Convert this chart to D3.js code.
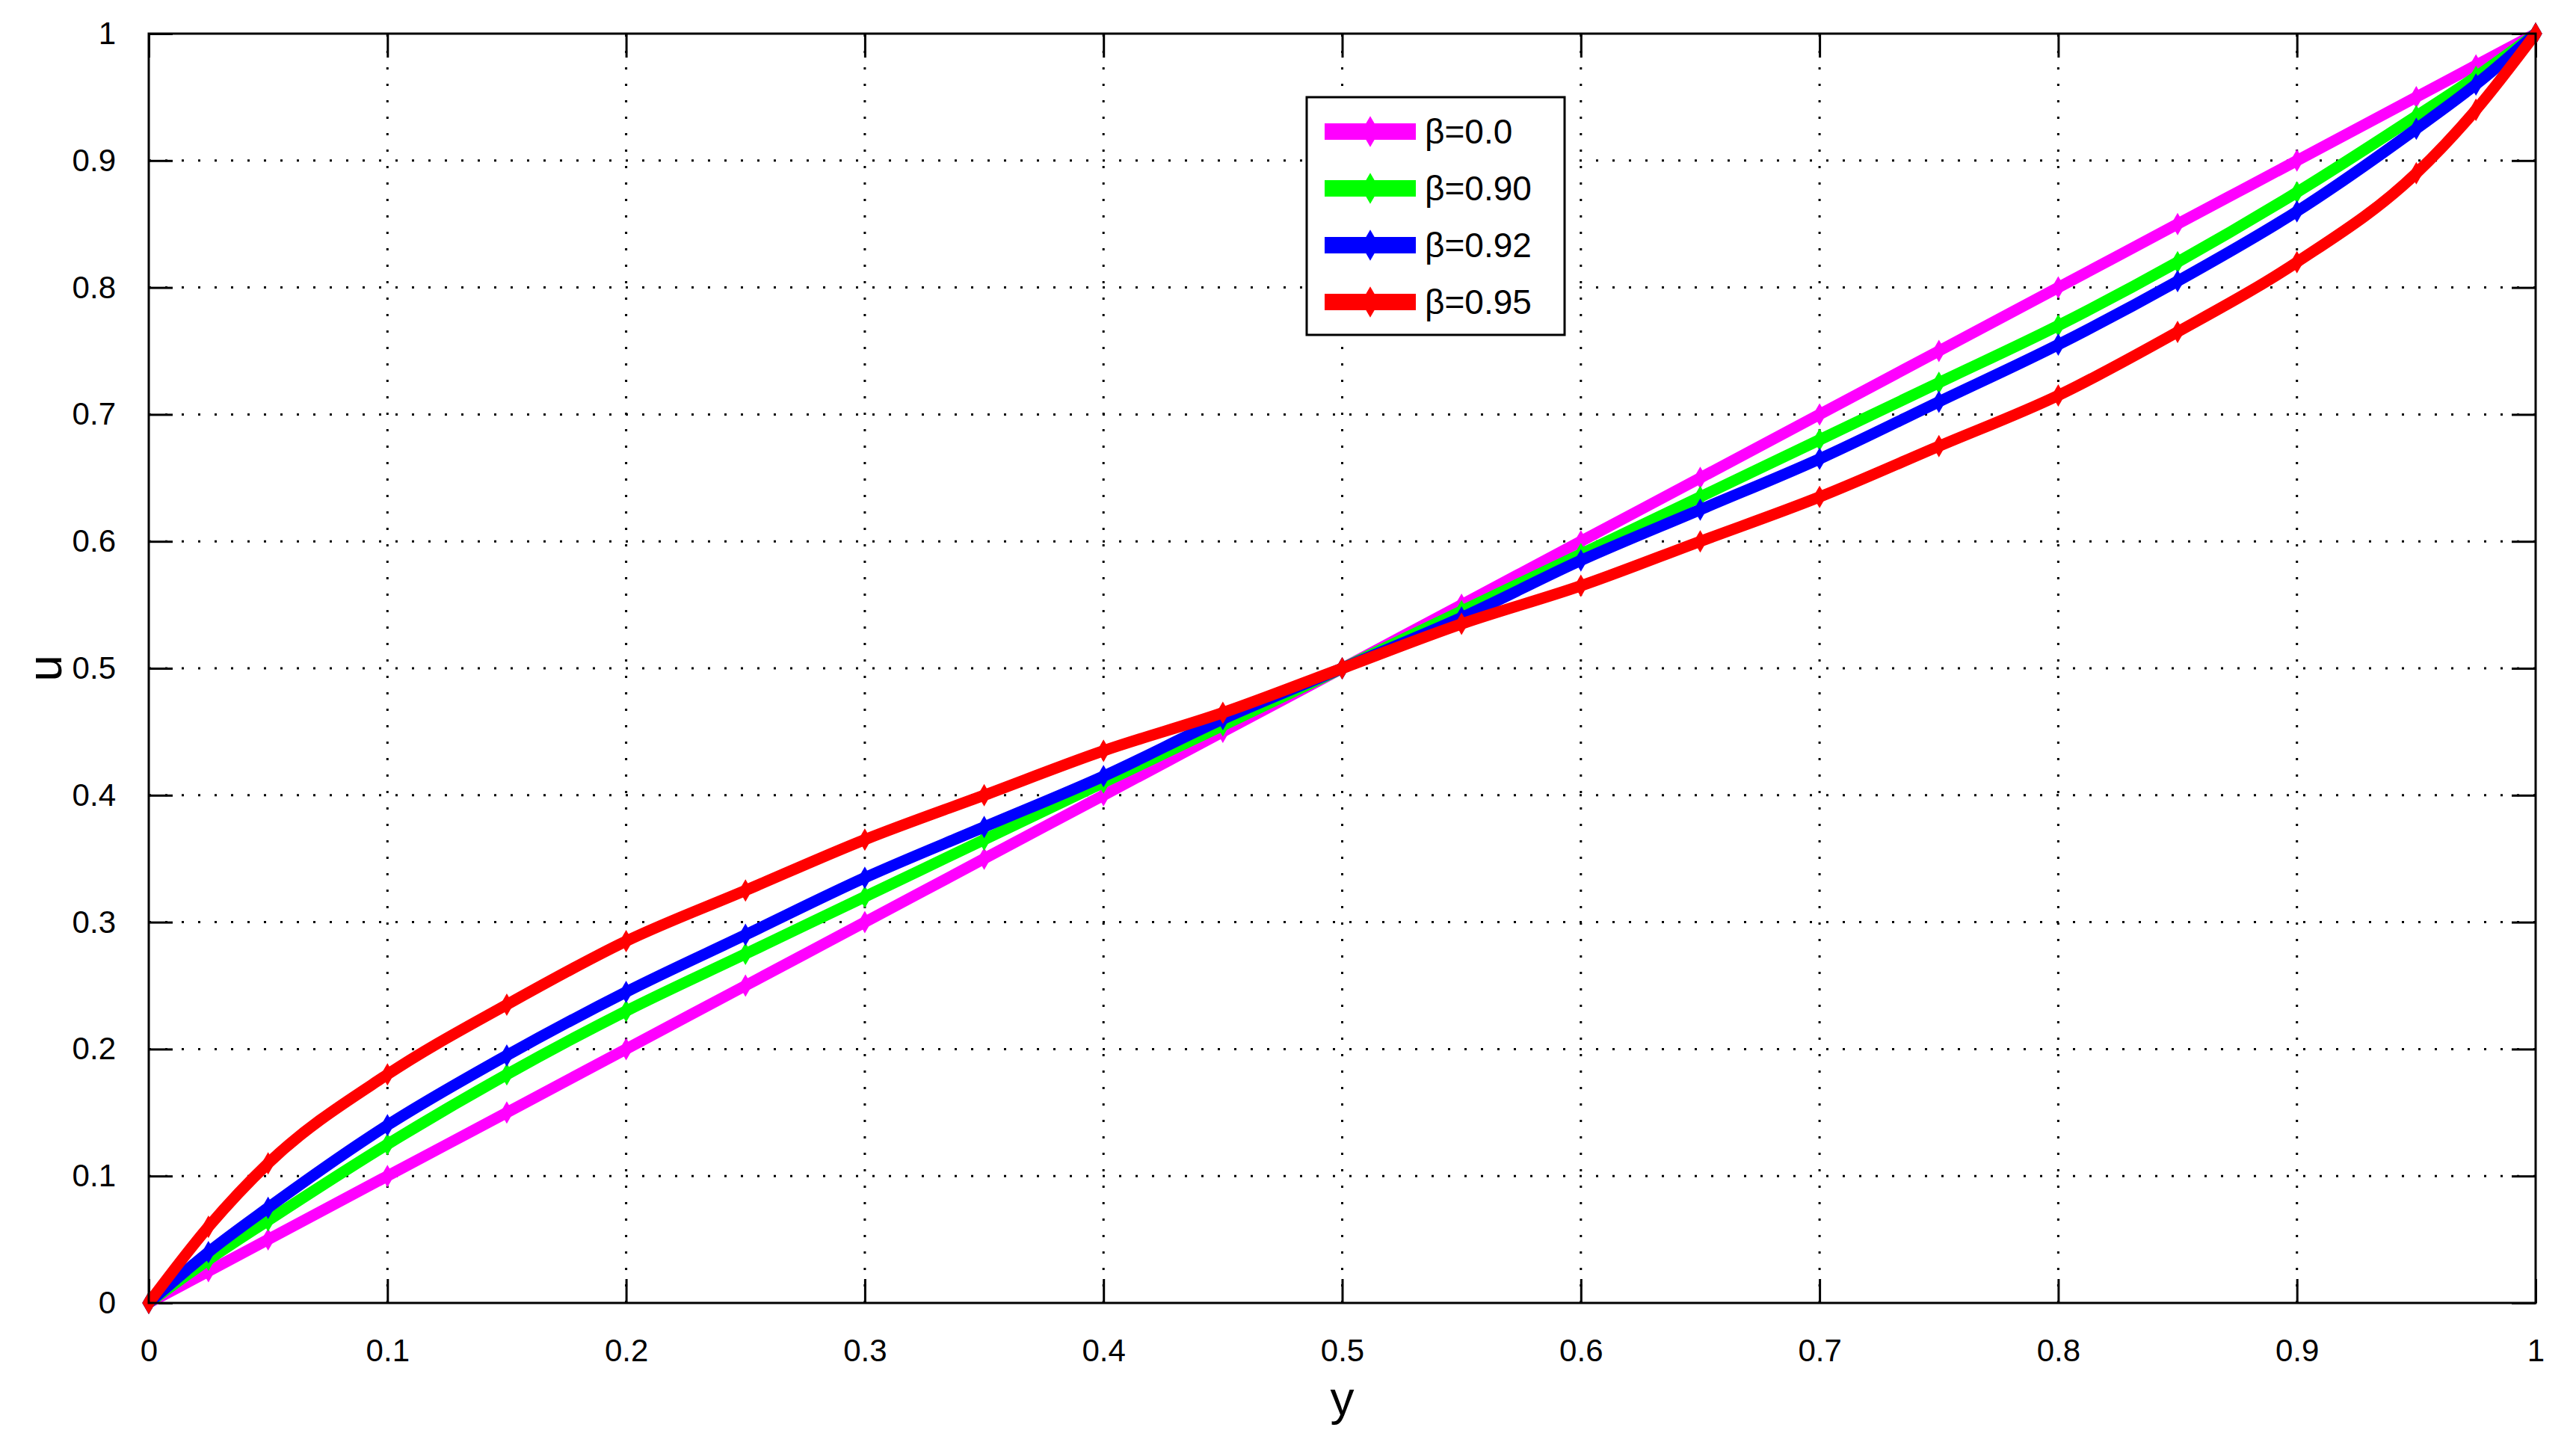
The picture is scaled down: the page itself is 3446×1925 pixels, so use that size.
<!DOCTYPE html>
<html>
<head>
<meta charset="utf-8">
<script src="https://cdn.jsdelivr.net/npm/d3@7"></script>
<style>
  body { margin: 0; background: #fff; }
  text { font-family: "Liberation Sans", Arial, sans-serif; }
</style>
</head>
<body>
<svg id="chart" width="3446" height="1925"></svg>
<script>
var yVals   = [0, 0.025, 0.05, 0.1, 0.15, 0.2, 0.25, 0.3, 0.35, 0.4, 0.45, 0.5, 0.55, 0.6, 0.65, 0.7, 0.75, 0.8, 0.85, 0.9, 0.95, 0.975, 1];
var beta00  = [0, 0.025, 0.05, 0.1, 0.15, 0.2, 0.25, 0.3, 0.35, 0.4, 0.45, 0.5, 0.55, 0.6, 0.65, 0.7, 0.75, 0.8, 0.85, 0.9, 0.95, 0.975, 1];
var beta90  = [0, 0.034, 0.065, 0.125, 0.18, 0.23, 0.275, 0.32, 0.365, 0.41, 0.455, 0.5, 0.545, 0.59, 0.635, 0.68, 0.725, 0.77, 0.82, 0.875, 0.935, 0.966, 1];
var beta92  = [0, 0.04, 0.075, 0.14, 0.195, 0.245, 0.29, 0.335, 0.375, 0.415, 0.46, 0.5, 0.54, 0.585, 0.625, 0.665, 0.71, 0.755, 0.805, 0.86, 0.925, 0.96, 1];
var beta95  = [0, 0.06, 0.11, 0.18, 0.235, 0.285, 0.325, 0.365, 0.40, 0.435, 0.465, 0.5, 0.535, 0.565, 0.60, 0.635, 0.675, 0.715, 0.765, 0.82, 0.89, 0.94, 1];
var seriesNames  = ["β=0.0", "β=0.90", "β=0.92", "β=0.95"];
var seriesColors = ["#ff00ff", "#00ff00", "#0000ff", "#ff0000"];
var tickVals = [0, 0.1, 0.2, 0.3, 0.4, 0.5, 0.6, 0.7, 0.8, 0.9, 1];

var series = [beta00, beta90, beta92, beta95];

var svg = d3.select('#chart');
var L = 199, R = 3392, T = 45, B = 1743;
var x = d3.scaleLinear().domain([0, 1]).range([L, R]);
var y = d3.scaleLinear().domain([0, 1]).range([B, T]);

// grid
var grid = svg.append('g').attr('stroke', '#000').attr('stroke-width', 3).attr('stroke-dasharray', '3,19');
grid.selectAll('.gx').data(tickVals.slice(1, -1)).enter().append('line')
  .attr('x1', d => x(d)).attr('x2', d => x(d)).attr('y1', B).attr('y2', T);
grid.selectAll('.gy').data(tickVals.slice(1, -1)).enter().append('line')
  .attr('y1', d => y(d)).attr('y2', d => y(d)).attr('x1', L).attr('x2', R);

// axes (ticks inward)
var fmt = d => d === 0 ? '0' : d === 1 ? '1' : d3.format('.1f')(d);
function styleAxis(g) {
  g.select('.domain').remove();
  g.selectAll('line').attr('stroke', '#000').attr('stroke-width', 3);
  g.selectAll('text').attr('font-size', 42).attr('fill', '#000');
}
svg.append('g').attr('transform', 'translate(0,' + B + ')')
  .call(d3.axisBottom(x).tickValues(tickVals).tickFormat(fmt).tickSizeInner(-32).tickSizeOuter(0).tickPadding(48))
  .call(styleAxis);
svg.append('g').attr('transform', 'translate(0,' + T + ')')
  .call(d3.axisTop(x).tickValues(tickVals).tickFormat('').tickSizeInner(-32).tickSizeOuter(0))
  .call(styleAxis);
svg.append('g').attr('transform', 'translate(' + L + ',0)')
  .call(d3.axisLeft(y).tickValues(tickVals).tickFormat(fmt).tickSizeInner(-32).tickSizeOuter(0).tickPadding(44))
  .call(styleAxis);
svg.append('g').attr('transform', 'translate(' + R + ',0)')
  .call(d3.axisRight(y).tickValues(tickVals).tickFormat('').tickSizeInner(-32).tickSizeOuter(0))
  .call(styleAxis);

// curves
var line = d3.line().x(d => x(d[0])).y(d => y(d[1])).curve(d3.curveMonotoneX);
series.forEach(function (s, i) {
  var pts = yVals.map((v, j) => [v, s[j]]);
  svg.append('path').datum(pts).attr('d', line)
    .attr('fill', 'none').attr('stroke', seriesColors[i]).attr('stroke-width', 15)
    .attr('stroke-linejoin', 'round');
  svg.append('g').selectAll('path').data(pts).enter().append('path')
    .attr('d', d3.symbol(d3.symbolDiamond, 260))
    .attr('transform', d => 'translate(' + x(d[0]) + ',' + y(d[1]) + ')')
    .attr('fill', seriesColors[i]);
});

// box
svg.append('rect').attr('x', L).attr('y', T).attr('width', R - L).attr('height', B - T)
  .attr('fill', 'none').attr('stroke', '#000').attr('stroke-width', 3);

// labels
svg.append('text').attr('x', (L + R) / 2).attr('y', 1893).attr('text-anchor', 'middle')
  .attr('font-size', 64).text('y');
svg.append('text').attr('transform', 'translate(82,' + ((T + B) / 2) + ') rotate(-90)')
  .attr('text-anchor', 'middle').attr('font-size', 64).text('u');

// legend
var lg = svg.append('g').attr('transform', 'translate(1748,130)');
lg.append('rect').attr('width', 345).attr('height', 318).attr('fill', '#fff')
  .attr('stroke', '#000').attr('stroke-width', 3);
seriesNames.forEach(function (n, i) {
  var cy = 46 + i * 76;
  lg.append('line').attr('x1', 24).attr('x2', 146).attr('y1', cy).attr('y2', cy)
    .attr('stroke', seriesColors[i]).attr('stroke-width', 22);
  lg.append('path').attr('d', d3.symbol(d3.symbolDiamond, 500))
    .attr('transform', 'translate(85,' + cy + ')').attr('fill', seriesColors[i]);
  lg.append('text').attr('x', 158).attr('y', cy + 16).attr('font-size', 46).text(n);
});
</script>
</body>
</html>
